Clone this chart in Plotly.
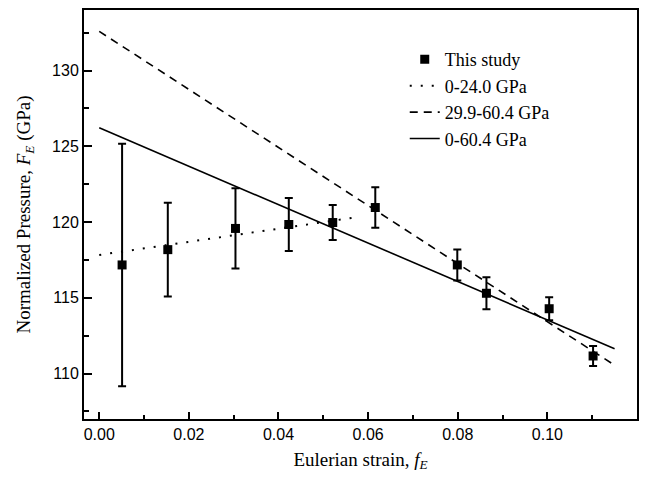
import plotly.graph_objects as go

# Data
strain = [0.0051, 0.0153, 0.0304, 0.0423, 0.0521, 0.0616, 0.0799, 0.0864, 0.1004, 0.1102]
F_E = [117.17, 118.18, 119.58, 119.84, 119.97, 120.96, 117.17, 115.30, 114.28, 111.16]
F_err = [8.0, 3.1, 2.65, 1.75, 1.16, 1.34, 1.02, 1.05, 0.76, 0.66]

fit_a_x = [0.0, 0.057]      # 0-24.0 GPa
fit_a_y = [117.83, 120.30]
fit_b_x = [0.0, 0.115]      # 29.9-60.4 GPa
fit_b_y = [132.59, 110.55]
fit_c_x = [0.0, 0.115]      # 0-60.4 GPa
fit_c_y = [126.22, 111.64]

x_ticks = [0.00, 0.02, 0.04, 0.06, 0.08, 0.10, 0.12]
y_ticks = [110, 115, 120, 125, 130]

serif = "Liberation Serif"
sans = "Liberation Sans"

fig = go.Figure()
fig.add_trace(go.Scatter(
    x=strain, y=F_E, mode="markers", name="This study",
    marker=dict(symbol="square", size=9, color="black"),
    error_y=dict(type="data", array=F_err, visible=True, color="black", thickness=2, width=4),
))
fig.add_trace(go.Scatter(x=fit_a_x, y=fit_a_y, mode="lines", name="0-24.0 GPa",
                         line=dict(color="black", width=2, dash="2px,9px")))
fig.add_trace(go.Scatter(x=fit_b_x, y=fit_b_y, mode="lines", name="29.9-60.4 GPa",
                         line=dict(color="black", width=1.6, dash="8px,6px")))
fig.add_trace(go.Scatter(x=fit_c_x, y=fit_c_y, mode="lines", name="0-60.4 GPa",
                         line=dict(color="black", width=1.6)))

fig.update_layout(
    width=650, height=483,
    margin=dict(l=84, r=13, t=8, b=64),
    paper_bgcolor="white", plot_bgcolor="white",
    showlegend=True,
    legend=dict(x=0.58, y=0.924, xanchor="left", yanchor="top",
                font=dict(family=serif, size=18, color="black"),
                bgcolor="rgba(0,0,0,0)", tracegroupgap=0, itemwidth=30),
    xaxis=dict(
        range=[-0.0034, 0.12], tickvals=x_ticks, ticktext=[f"{v:.2f}" for v in x_ticks],
        ticks="inside", ticklen=7, tickwidth=2, tickcolor="black",
        minor=dict(dtick=0.01, tick0=0, ticks="inside", ticklen=4, tickwidth=2, tickcolor="black"),
        showline=True, linewidth=2, linecolor="black", mirror=True,
        showgrid=False, zeroline=False,
        tickfont=dict(family=sans, size=16, color="black"),
        title=dict(text="Eulerian strain, <i>f</i><sub><i>E</i></sub>",
                   font=dict(family=serif, size=19, color="black"), standoff=10),
    ),
    yaxis=dict(
        range=[107, 134], tickvals=y_ticks,
        ticks="inside", ticklen=8, tickwidth=2, tickcolor="black",
        minor=dict(dtick=2.5, tick0=0, ticks="inside", ticklen=5, tickwidth=2, tickcolor="black"),
        showline=True, linewidth=2, linecolor="black", mirror=True,
        showgrid=False, zeroline=False,
        tickfont=dict(family=sans, size=16, color="black"),
        title=dict(text="Normalized Pressure, <i>F</i><sub><i>E</i></sub> (GPa)",
                   font=dict(family=serif, size=19, color="black"), standoff=16),
    ),
)

fig.write_html("out.html")
